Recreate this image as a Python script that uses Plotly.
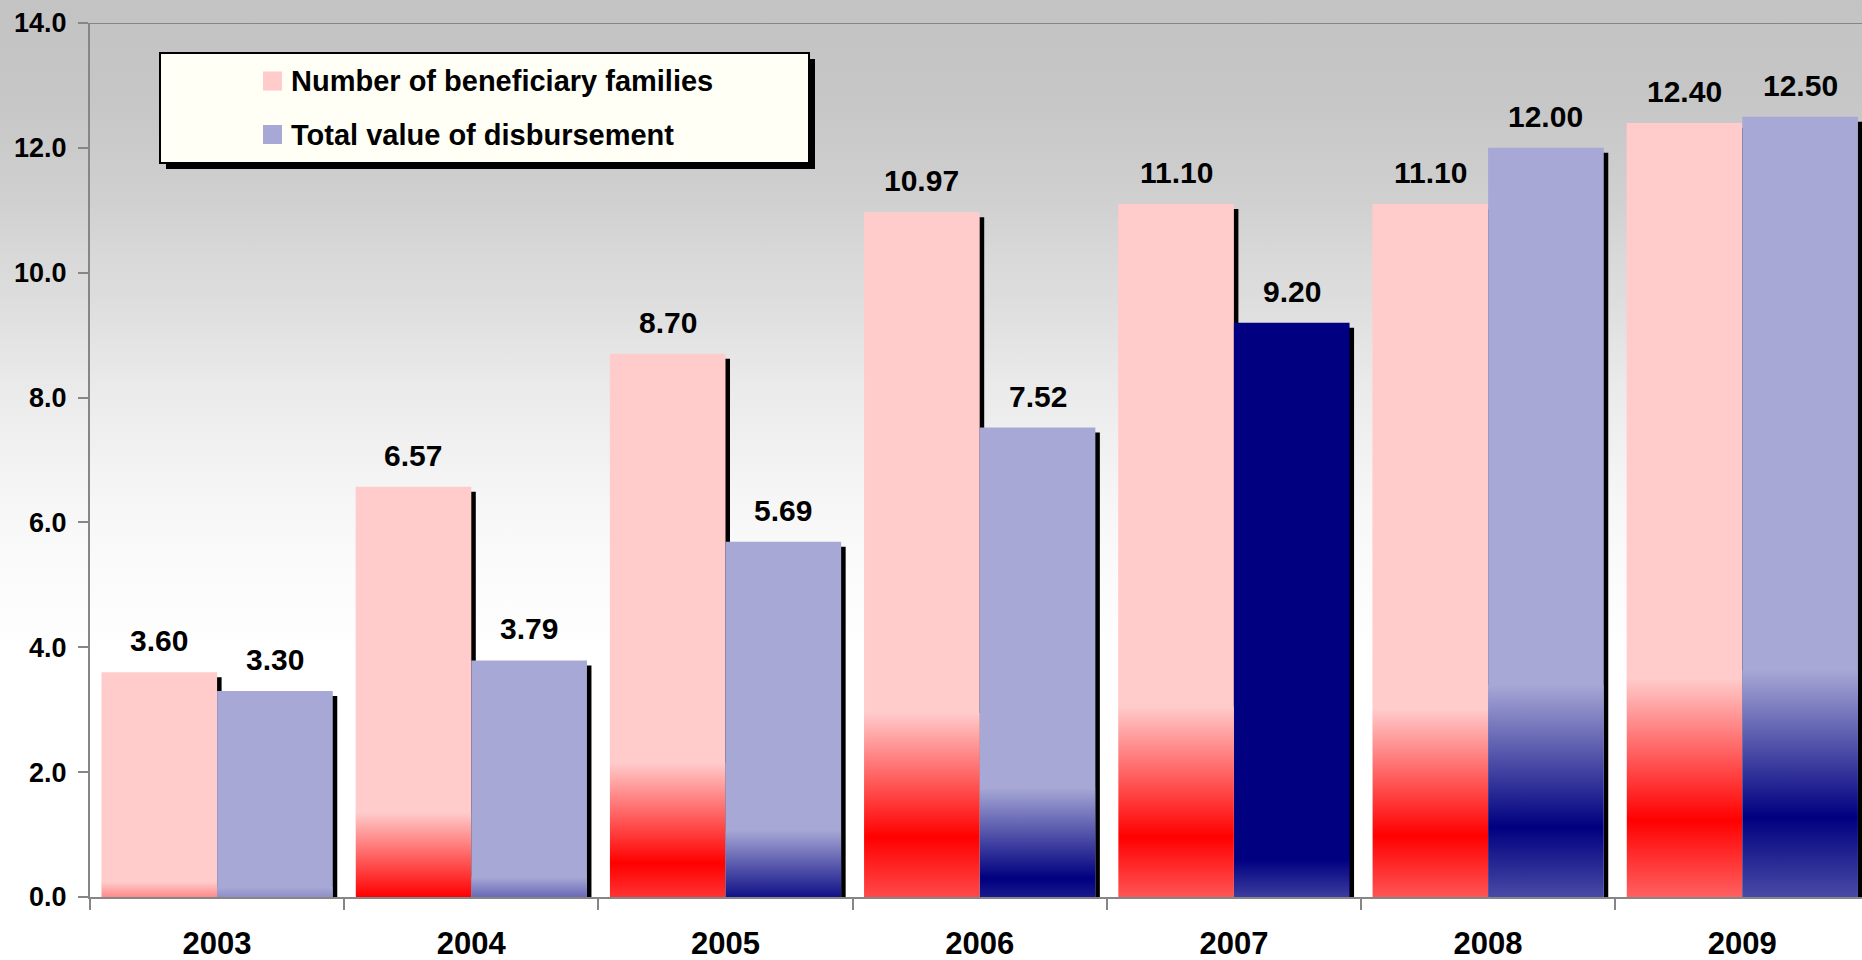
import base64
import plotly.graph_objects as go

# ---------------- data ----------------
years = ["2003", "2004", "2005", "2006", "2007", "2008", "2009"]
families = [3.60, 6.57, 8.70, 10.97, 11.10, 11.10, 12.40]
disbursement = [3.30, 3.79, 5.69, 7.52, 9.20, 12.00, 12.50]
series_names = ["Number of beneficiary families", "Total value of disbursement"]
y_ticks = [0, 2, 4, 6, 8, 10, 12, 14]

# ---------------- styling ----------------
PINK = (255, 203, 203)
RED = (255, 0, 0)
LAV = (167, 168, 213)
NAVY = (0, 0, 128)

def rgb(c):
    return "rgb(%d,%d,%d)" % tuple(int(round(v)) for v in c)

def mix(a, b, f):
    return tuple(a[i] + (b[i] - a[i]) * f for i in range(3))

pink_colors = [PINK] * 7
blue_colors = [LAV, LAV, LAV, LAV, NAVY, LAV, LAV]

# gradient zone per bar: (zone top, dark peak, light fraction at base)
pink_grad = [(0.24, 0.0, 0.68), (1.35, 0.0, 0.0), (2.15, 0.54, 0.25), (2.95, 0.96, 0.36),
             (3.05, 0.96, 0.42), (3.0, 0.98, 0.42), (3.5, 1.23, 0.48)]
blue_grad = [(0.16, 0.0, 0.85), (0.32, 0.0, 0.63), (1.07, 0.0, 0.1), (1.75, 0.3, 0.15),
             (0.6, 0.6, 0.36), (3.4, 1.12, 0.44), (3.64, 1.28, 0.44)]

W, H = 1862, 960
ML, MT, MB, MR = 90, 23, 63, 0
PW, PH = W - ML - MR, H - MT - MB
CAT_PX = 254.2
X_RANGE = [-0.5, -0.5 + PW / CAT_PX]
Y_MAX = 14
PX_PER_Y = PH / Y_MAX
BW = 0.455
SH_DX = 4.5 / CAT_PX
SH_DY = 5 / PX_PER_Y

FONT = "Liberation Sans, Arial, sans-serif"
GRAY = "#868686"


def px2x(px):
    return (px - ML) / PW


def py2y(py):
    return (H - MB - py) / PH


def svg_uri(stops):
    st = "".join('<stop offset="%.4f" stop-color="%s"/>' % (o, c) for o, c in stops)
    svg = ('<svg xmlns="http://www.w3.org/2000/svg" width="10" height="100" viewBox="0 0 10 100" '
           'preserveAspectRatio="none"><defs><linearGradient id="g" x1="0" y1="0" x2="0" y2="1">'
           + st + '</linearGradient></defs><rect x="0" y="0" width="10" height="100" fill="url(#g)"/></svg>')
    return "data:image/svg+xml;base64," + base64.b64encode(svg.encode()).decode()


xs = list(range(len(years)))
fig = go.Figure()

series = [
    (families, -BW, pink_colors, PINK, RED, pink_grad),
    (disbursement, 0.0, blue_colors, LAV, NAVY, blue_grad),
]

images = []
for si, (vals, off, cols, light, dark, grads) in enumerate(series):
    fig.add_trace(go.Bar(
        x=xs, y=[v - SH_DY for v in vals], offset=off + SH_DX, width=BW,
        marker=dict(color="black", line=dict(width=0)), hoverinfo="skip", showlegend=False))
    fig.add_trace(go.Bar(
        x=xs, y=vals, offset=off, width=BW, name=series_names[si],
        marker=dict(color=[rgb(c) for c in cols], line=dict(width=0)), showlegend=False))
    for i, (zt, pk, bf) in enumerate(grads):
        stops = [(0.0, rgb(cols[i]))]
        if pk > 0:
            stops.append(((zt - pk) / zt, rgb(dark)))
        stops.append((1.0, rgb(mix(dark, light, bf))))
        images.append(dict(source=svg_uri(stops), xref="x", yref="y", x=i + off, y=zt,
                           sizex=BW, sizey=zt, xanchor="left", yanchor="top",
                           sizing="stretch", layer="above"))

# background gradient over the whole figure
bg_stops = [(0.0, "#c3c3c3"), (0.10, "#c6c6c6"), (0.21, "#d0d0d0"), (0.27, "#d9d9d9"),
            (0.31, "#dddddd"), (0.40, "#eaeaea"), (0.52, "#f6f6f6"), (0.58, "#fafafa"),
            (0.65, "#fdfdfd"), (0.68, "#ffffff"), (1.0, "#ffffff")]
images.append(dict(source=svg_uri(bg_stops), xref="paper", yref="paper", x=px2x(0), y=py2y(0),
                   sizex=W / PW, sizey=H / PH, xanchor="left", yanchor="top",
                   sizing="stretch", layer="below"))

annotations = []
for si, (vals, off, cols, light, dark, grads) in enumerate(series):
    for i, v in enumerate(vals):
        annotations.append(dict(x=i + off + BW / 2, y=v, text="%.2f" % v, showarrow=False,
                                xref="x", yref="y", yanchor="bottom", yshift=13,
                                font=dict(family=FONT, size=30, color="black", weight="bold")))

shapes = []
# top border line at 14
shapes.append(dict(type="line", xref="paper", yref="y", x0=0, x1=1, y0=Y_MAX, y1=Y_MAX,
                   line=dict(color=GRAY, width=2), layer="above"))
# legend box (shadow + box)
bx0, bx1, by0, by1 = 160, 809, 53, 163
shapes.append(dict(type="rect", xref="paper", yref="paper", x0=px2x(bx0 + 6), x1=px2x(bx1 + 6),
                   y0=py2y(by1 + 6), y1=py2y(by0 + 6), fillcolor="black", line=dict(width=0),
                   layer="above"))
shapes.append(dict(type="rect", xref="paper", yref="paper", x0=px2x(bx0), x1=px2x(bx1),
                   y0=py2y(by1), y1=py2y(by0), fillcolor="#fffff6",
                   line=dict(color="black", width=2), layer="above"))
legend_rows = [81, 134.5]
for si, row in enumerate(legend_rows):
    col = PINK if si == 0 else LAV
    shapes.append(dict(type="rect", xref="paper", yref="paper", x0=px2x(263), x1=px2x(282),
                       y0=py2y(row + 9.5), y1=py2y(row - 9.5), fillcolor=rgb(col),
                       line=dict(width=0), layer="above"))
    annotations.append(dict(x=px2x(289), y=py2y(row), xref="paper", yref="paper",
                            text=series_names[si], showarrow=False, xanchor="left",
                            yanchor="middle",
                            font=dict(family=FONT, size=29, color="black", weight="bold")))

fig.update_layout(
    width=W, height=H,
    margin=dict(l=ML, r=MR, t=MT, b=MB, pad=0),
    paper_bgcolor="white", plot_bgcolor="rgba(0,0,0,0)",
    barmode="overlay",
    showlegend=False,
    images=images, shapes=shapes, annotations=annotations,
    xaxis=dict(range=X_RANGE, tickmode="array", tickvals=xs, ticktext=years, ticks="",
               showgrid=False, zeroline=False, showline=True, linecolor=GRAY, linewidth=2,
               tickfont=dict(family=FONT, size=31, color="black", weight="bold"),
               ticklabelstandoff=18,
               minor=dict(tickmode="array", tickvals=[i - 0.5 for i in range(len(years) + 1)],
                          ticks="outside", ticklen=11, tickcolor=GRAY, tickwidth=2,
                          showgrid=False)),
    yaxis=dict(range=[0, Y_MAX], tickmode="array", tickvals=y_ticks,
               ticktext=["%.1f" % t for t in y_ticks], ticks="outside", ticklen=10,
               tickcolor=GRAY, tickwidth=2, showgrid=False, zeroline=False, showline=True,
               linecolor=GRAY, linewidth=2, ticklabelstandoff=6,
               tickfont=dict(family=FONT, size=27, color="black", weight="bold")),
)

fig.write_html("out.html", config={"displayModeBar": False},
               post_script="document.body.style.margin='0';document.body.style.padding='0';"
                           "document.body.style.overflow='hidden';")
